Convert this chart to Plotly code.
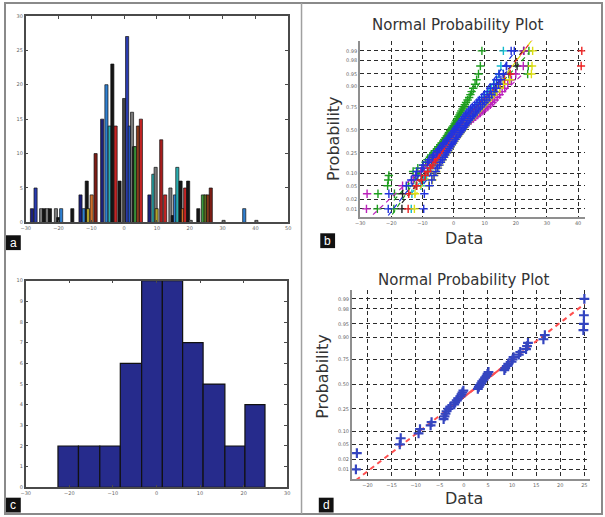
import plotly.graph_objects as go
from statistics import NormalDist

W, H = 605, 517

# ---------------- panel a : grouped histograms of several columns
a_x = [-28.1, -27.0, -25.3, -24.4, -23.5, -22.6, -20.8, -20.1, -19.2, -15.8,
       -13.3, -12.3, -11.4, -11.0, -9.9, -8.7,
       -6.7, -5.4, -4.4, -3.6, -2.6, -1.4,
       0.0, 0.9, 1.7, 2.4, 3.0, 3.4, 4.2, 5.1,
       7.7, 8.9, 9.6, 9.9, 11.3, 12.5,
       14.1, 14.8, 15.5, 16.2, 17.2, 17.9, 18.6, 19.5, 20.3,
       22.6, 24.0, 24.8, 25.6, 26.4, 30.3, 36.6, 40.3]
a_count = [2, 5, 2, 2, 2, 2, 2, 0.7, 2, 2,
           4, 2, 6, 2, 4, 10,
           15, 20, 14, 23, 14, 6,
           18, 27, 14, 16, 11, 11, 14, 15,
           4, 7, 8, 2, 12, 4,
           5, 1, 4, 8, 6, 2, 5, 6, 0.3,
           2, 4, 4, 4, 5, 0.3, 2, 0.3]
NAVY, BLUE, LBLUE, CYAN = '#1c1f7a', '#2a3cb0', '#2f7fd0', '#2aaeb0'
GREEN, OLIVE, ORANGE, RED = '#3c9a3c', '#b0a02a', '#d0702a', '#c42424'
DRED, BLACK, GRAY, BROWN, DGRAY = '#7e1c14', '#151515', '#7a7a7a', '#8a3a1c', '#444444'
a_color = [NAVY, BLUE, GRAY, BLACK, GRAY, BLACK, GRAY, BLACK, LBLUE, BLACK,
           NAVY, LBLUE, BLACK, OLIVE, ORANGE, DRED,
           NAVY, LBLUE, CYAN, BLACK, RED, BLACK,
           DGRAY, BLUE, '#2255c0', GRAY, BLACK, GREEN, BROWN, RED,
           NAVY, CYAN, GRAY, OLIVE, '#a81c1c', RED,
           GRAY, BLACK, LBLUE, CYAN, BLACK, ORANGE, RED, BLACK, GRAY,
           BLACK, GREEN, '#5a6a20', BROWN, DRED, GRAY, LBLUE, GRAY]

# ---------------- panel c : histogram of one column
c_edges = [-22.6, -17.9, -13.0, -8.3, -3.4, 1.35, 6.0, 10.7, 15.7, 20.3, 24.9]
c_counts = [2, 2, 2, 6, 10, 10, 7, 5, 2, 4]

# ---------------- panel b : normal probability plot, several columns (sorted)
b_blue1 = [-21.0, -20.8, -15.2, -13.6, -12.1, -11.9, -10.2, -9.8, -8.3, -7.9,
           -6.8, -6.5, -5.4, -5.1, -4.6, -3.9, -3.5, -3.1, -2.4, -2.0,
           -1.6, -1.2, -0.7, -0.3, 0.2, 0.6, 1.0, 1.3, 1.7, 2.1,
           2.6, 3.0, 3.4, 3.9, 4.3, 4.9, 5.4, 6.0, 6.8, 7.5,
           8.3, 9.0, 9.9, 10.8, 11.8, 12.9, 13.8, 14.6, 17.0, 19.5]
b_green1 = [-24.5, -24.3, -21.2, -21.0, -20.8, -13.0, -11.5, -9.8, -9.0, -8.4,
            -7.6, -7.2, -6.5, -6.0, -5.3, -4.9, -4.3, -3.8, -3.3, -3.0,
            -2.6, -2.2, -1.8, -1.5, -1.1, -0.7, -0.4, 0.0, 0.3, 0.6,
            0.9, 1.2, 1.5, 1.9, 2.2, 2.5, 2.9, 3.3, 3.6, 4.0,
            4.5, 5.0, 5.4, 5.8, 6.3, 6.9, 7.4, 8.0, 8.6, 9.1]
b_red = [-14.6, -14.4, -11.8, -10.3, -9.1, -8.2, -7.4, -6.6, -5.9, -5.3,
         -4.6, -4.0, -3.5, -2.9, -2.4, -1.9, -1.4, -1.0, -0.5, -0.1,
         0.3, 0.8, 1.2, 1.6, 2.0, 2.4, 2.8, 3.3, 3.7, 4.1,
         4.6, 5.0, 5.5, 6.0, 6.5, 7.0, 7.6, 8.2, 8.8, 9.5,
         10.2, 11.0, 11.8, 12.7, 13.8, 15.0, 16.4, 18.2, 41.0, 41.2]
b_cyan = [-13.6, -13.4, -10.5, -9.6, -8.7, -8.0, -7.3, -6.6, -6.0, -5.4,
          -4.9, -4.3, -3.8, -3.3, -2.8, -2.4, -1.9, -1.5, -1.1, -0.7,
          -0.3, 0.1, 0.5, 0.9, 1.3, 1.7, 2.1, 2.5, 2.9, 3.3,
          3.7, 4.1, 4.6, 5.0, 5.5, 6.0, 6.5, 7.1, 7.7, 8.3,
          9.0, 9.7, 10.5, 11.3, 12.2, 13.0, 13.8, 14.6, 15.2, 16.0]
b_magenta = [-28.0, -27.8, -16.4, -13.0, -12.2, -10.6, -9.4, -8.5, -7.6, -6.8,
             -6.1, -5.4, -4.7, -4.1, -3.5, -2.9, -2.3, -1.8, -1.2, -0.7,
             -0.2, 0.4, 0.9, 1.5, 2.0, 2.6, 3.2, 3.8, 4.4, 5.0,
             5.7, 6.4, 7.1, 7.8, 8.6, 9.4, 10.2, 11.0, 11.8, 12.5,
             13.2, 14.0, 14.8, 15.6, 16.4, 17.4, 18.6, 20.0, 22.4, 22.6]
b_yellow = [-12.6, -12.4, -8.0, -6.8, -6.2, -5.6, -5.0, -4.5, -4.0, -3.5,
            -3.0, -2.6, -2.1, -1.7, -1.3, -0.9, -0.5, -0.1, 0.3, 0.7,
            1.1, 1.5, 1.9, 2.3, 2.7, 3.1, 3.5, 3.9, 4.3, 4.7,
            5.2, 5.7, 6.2, 6.7, 7.2, 7.8, 8.4, 9.0, 9.7, 10.4,
            11.1, 11.9, 12.8, 13.8, 14.8, 16.0, 18.0, 25.0, 25.2, 25.4]
b_black = [-16.6, -16.4, -12.0, -10.4, -9.2, -8.3, -7.5, -6.8, -6.1, -5.5,
           -4.9, -4.3, -3.8, -3.2, -2.7, -2.2, -1.7, -1.3, -0.8, -0.4,
           0.0, 0.4, 0.8, 1.2, 1.6, 2.0, 2.5, 2.9, 3.3, 3.8,
           4.2, 4.7, 5.2, 5.7, 6.2, 6.7, 7.3, 7.9, 8.5, 9.2,
           9.9, 10.7, 11.5, 12.4, 13.4, 14.6, 16.0, 17.8, 20.4, 22.5]
b_blue2 = [-9.6, -9.4, -7.8, -7.0, -6.3, -5.7, -5.1, -4.6, -4.1, -3.6,
           -3.1, -2.7, -2.2, -1.8, -1.4, -1.0, -0.6, -0.2, 0.2, 0.6,
           1.0, 1.4, 1.8, 2.2, 2.6, 3.0, 3.4, 3.8, 4.2, 4.6,
           5.0, 5.5, 6.0, 6.5, 7.0, 7.5, 8.1, 8.7, 9.3, 10.0,
           10.7, 11.4, 12.2, 13.0, 13.8, 14.5, 15.2, 16.0, 17.0, 18.5]
b_green2 = [-19.2, -19.0, -14.5, -12.8, -11.5, -10.4, -9.4, -8.6, -7.8, -7.1,
            -6.4, -5.8, -5.2, -4.6, -4.0, -3.5, -3.0, -2.5, -2.0, -1.5,
            -1.0, -0.5, 0.0, 0.5, 1.0, 1.5, 2.0, 2.5, 3.0, 3.5,
            4.0, 4.5, 5.1, 5.7, 6.3, 6.9, 7.6, 8.3, 9.0, 9.8,
            10.6, 11.5, 12.5, 13.6, 14.8, 16.2, 18.0, 23.8, 24.0, 24.2]

# ---------------- panel d : normal probability plot of the panel c column
d_values = [-22.4, -22.2, -13.3, -13.1, -9.4, -9.1, -6.9, -6.7, -4.2, -4.0,
            -3.8, -3.6, -3.2, -2.8, -2.0, -1.8, -1.5, -1.2, -0.7, -0.5,
            -0.3, -0.1, 2.9, 3.1, 3.3, 3.6, 3.8, 4.1, 4.4, 4.7,
            4.9, 5.1, 8.4, 8.6, 8.9, 9.2, 9.9, 10.1, 10.3, 11.4,
            11.7, 12.9, 13.1, 13.3, 16.5, 16.8, 24.8, 24.9, 24.9, 25.0]

prob_ticks = [0.01, 0.02, 0.05, 0.10, 0.25, 0.50, 0.75, 0.90, 0.95, 0.98, 0.99]
a_xticks = list(range(-30, 51, 10))
a_yticks = list(range(0, 31, 5))
c_xticks = list(range(-30, 31, 10))
c_yticks = list(range(0, 11))
b_xticks = list(range(-30, 41, 10))
d_xticks = list(range(-20, 26, 5))

nd = NormalDist()


def px(x):
    return x / W


def py(y):
    return 1 - y / H


def normplot(fig, vals, color, xa, ya, msize=6, lw=1.4, mw=1.4):
    v = sorted(vals)
    n = len(v)
    z = [nd.inv_cdf((i - 0.5) / n) for i in range(1, n + 1)]

    def prc(p):
        pos = p * n + 0.5
        k = int(pos)
        f = pos - k
        return v[k - 1] + f * (v[k] - v[k - 1])

    q1, q3 = prc(0.25), prc(0.75)
    z1, z3 = nd.inv_cdf(0.25), nd.inv_cdf(0.75)
    slope = (z3 - z1) / (q3 - q1)
    ends = [v[0], v[-1]]
    fig.add_trace(go.Scatter(x=ends, y=[z1 + (e - q1) * slope for e in ends], mode='lines',
                             line=dict(color=color, width=lw, dash='5px,4px'),
                             xaxis=xa, yaxis=ya, hoverinfo='skip'))
    fig.add_trace(go.Scatter(x=[q1, q3], y=[z1, z3], mode='lines',
                             line=dict(color=color, width=lw),
                             xaxis=xa, yaxis=ya, hoverinfo='skip'))
    if msize:
        fig.add_trace(go.Scatter(x=v, y=z, mode='markers',
                                 marker=dict(symbol='cross-thin', size=msize,
                                             line=dict(width=mw, color=color)),
                                 xaxis=xa, yaxis=ya))


fig = go.Figure()

# a
fig.add_trace(go.Bar(x=a_x, y=a_count, width=0.95, marker_color=a_color,
                     marker_line=dict(color='#111', width=0.7), xaxis='x', yaxis='y'))

# c
c_mid = [(c_edges[i] + c_edges[i + 1]) / 2 for i in range(len(c_counts))]
c_w = [c_edges[i + 1] - c_edges[i] for i in range(len(c_counts))]
fig.add_trace(go.Bar(x=c_mid, y=c_counts, width=c_w, marker_color='#262b8c',
                     marker_line=dict(color='#111', width=1.2), xaxis='x3', yaxis='y3'))

# b  (blue columns drawn last so they sit on top, as in the reference)
b_series = [(b_green2, '#1e9e1e'), (b_green1, '#1e9e1e'), (b_black, '#222222'),
            (b_cyan, '#11bbcc'), (b_magenta, '#bb22bb'), (b_red, '#ee2222'),
            (b_yellow, '#dddd11'), (b_blue2, '#2233dd'), (b_blue1, '#2233dd')]
for vals, col in b_series:
    normplot(fig, vals, col, 'x2', 'y2', msize=6, lw=1.2, mw=1.4)

# d
normplot(fig, d_values, '#ff5050', 'x4', 'y4', msize=0, lw=2.0, mw=0)
fig.add_trace(go.Scatter(x=sorted(d_values),
                         y=[nd.inv_cdf((i - 0.5) / len(d_values)) for i in range(1, len(d_values) + 1)],
                         mode='markers',
                         marker=dict(symbol='cross-thin', size=7, line=dict(width=2.2, color='#3445c0')),
                         xaxis='x4', yaxis='y4'))

tick_font = dict(size=5, color='#666', family='DejaVu Sans')
box = dict(showline=True, linecolor='#4a4a4a', linewidth=1.5, mirror='ticks', ticks='inside',
           ticklen=3, tickcolor='#4a4a4a', showgrid=False, zeroline=False, tickfont=tick_font)
prob = dict(showline=True, linecolor='#8f8f8f', linewidth=2, mirror=False, ticks='',
            showgrid=True, gridcolor='#2b2b2b', griddash='4px,3px', gridwidth=1.2,
            zeroline=False, tickfont=tick_font)
prob_z = [nd.inv_cdf(p) for p in prob_ticks]
prob_txt = ['%.2f' % p for p in prob_ticks]

fig.update_layout(
    width=W, height=H, margin=dict(l=0, r=0, t=0, b=0),
    paper_bgcolor='white', plot_bgcolor='white', showlegend=False,
    font=dict(family='DejaVu Sans', color='#333'),
    xaxis=dict(box, domain=[px(21), px(287)], range=[-30, 50], tickvals=a_xticks, anchor='y'),
    yaxis=dict(box, domain=[py(222), py(13)], range=[0, 30], tickvals=a_yticks, anchor='x'),
    xaxis3=dict(box, domain=[px(21), px(286)], range=[-30, 30], tickvals=c_xticks, anchor='y3'),
    yaxis3=dict(box, domain=[py(490), py(281)], range=[0, 10], tickvals=c_yticks, anchor='x3'),
    xaxis2=dict(prob, domain=[px(360), px(588)], range=[-30, 42.3], tickvals=b_xticks, anchor='y2'),
    yaxis2=dict(prob, domain=[py(216.7), py(38.3)], range=[-2.57, 2.62], tickvals=prob_z,
                ticktext=prob_txt, anchor='x2'),
    xaxis4=dict(prob, domain=[px(351.7), px(593)], range=[-23.2, 26.2], tickvals=d_xticks, anchor='y4'),
    yaxis4=dict(prob, domain=[py(481.7), py(290)], range=[-2.59, 2.58], tickvals=prob_z,
                ticktext=prob_txt, anchor='x4'),
)

ann = []
for cx, cy, txt, ang in [(459, 22, 'Normal Probability Plot', 0), (465, 280.5, 'Normal Probability Plot', 0),
                         (333, 137, 'Probability', -90), (321.5, 378, 'Probability', -90),
                         (465.5, 238, 'Data', 0), (465.5, 501, 'Data', 0)]:
    size = 15 if txt.startswith('Normal') else 16
    ann.append(dict(x=px(cx), y=py(cy), xref='paper', yref='paper', text=txt, showarrow=False,
                    textangle=ang, xanchor='center', yanchor='middle',
                    font=dict(size=size, color='#333', family='DejaVu Sans')))

shapes = [dict(type='rect', xref='paper', yref='paper', x0=0, y0=0, x1=1, y1=1,
               line=dict(color='#8a8a8a', width=2)),
          dict(type='line', xref='paper', yref='paper', x0=px(300.5), x1=px(300.5), y0=0, y1=1,
               line=dict(color='#a0a0a0', width=1.5))]
for lx, ly, letter in [(8.5, 242.5, 'a'), (327, 240.5, 'b'), (8.5, 508, 'c'), (325.5, 508, 'd')]:
    shapes.append(dict(type='rect', xref='paper', yref='paper', x0=px(lx - 7.5), x1=px(lx + 7.5),
                       y0=py(ly + 7.5), y1=py(ly - 7.5), fillcolor='#111', line=dict(width=0)))
    ann.append(dict(x=px(lx), y=py(ly), xref='paper', yref='paper', text=letter, showarrow=False,
                    xanchor='center', yanchor='middle', borderpad=0,
                    font=dict(size=12, color='white', family='Liberation Sans')))

fig.update_layout(annotations=ann, shapes=shapes)
# the page's default 8px body margin would push the figure out of the window
fig.write_html("out.html", config={'displayModeBar': False},
               post_script="document.body.style.margin='0px';")
